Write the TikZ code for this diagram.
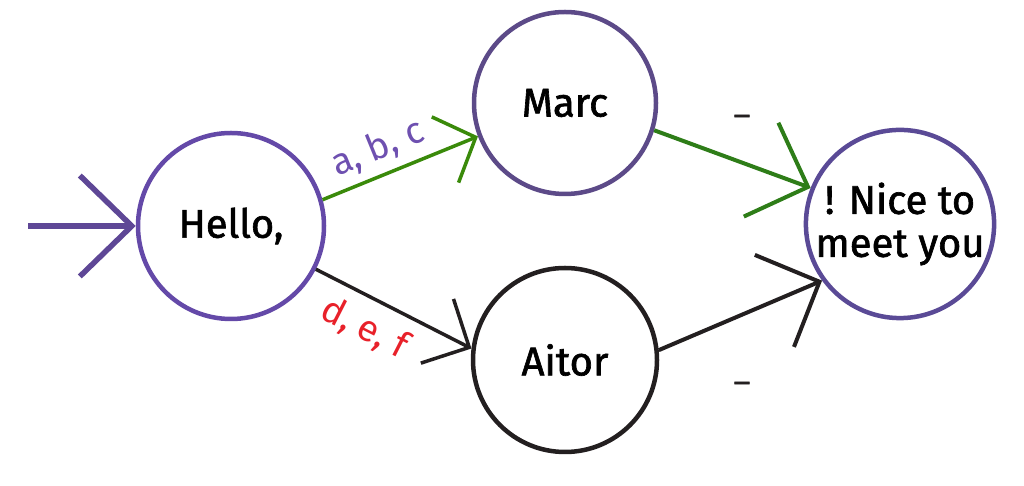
\documentclass[tikz,border=0pt]{standalone}
\usepackage{fontspec}
\setmainfont{Fira Sans}
\newfontfamily\medfont{Fira Sans}[FakeBold=1.6]
\usetikzlibrary{arrows.meta}
\definecolor{hellopurple}{HTML}{6449A8}
\definecolor{marcpurple}{HTML}{5C4A88}
\definecolor{nicepurple}{HTML}{5A4A96}
\definecolor{inpurple}{HTML}{5E4796}
\definecolor{labpurple}{HTML}{6E50B0}
\definecolor{edgegreen}{HTML}{3A8A0A}
\definecolor{edgegreenb}{HTML}{2E7D18}
\definecolor{darkk}{HTML}{231F20}
\definecolor{labred}{HTML}{E8212A}
\tikzset{
  state/.style={circle, line width=4.5pt, inner sep=0pt, align=center, font=\medfont\fontsize{40}{43}\selectfont},
  edgelab/.style={font=\fontsize{37}{40}\selectfont, inner sep=0pt},
  dashlab/.style={font=\medfont\fontsize{30}{32}\selectfont, inner sep=0pt, text=darkk},
  conn/.style={line width=4pt},
}
\begin{document}
\begin{tikzpicture}[x=1pt,y=1pt]
\useasboundingbox (0,0) rectangle (1024,486);
\node[state, draw=hellopurple, minimum size=186pt] (hello) at (231,260) {Hello,};
\node[state, draw=marcpurple, minimum size=182pt] (marc) at (565,383) {Marc};
\node[state, draw=darkk, minimum size=184pt] (aitor) at (565,126) {Aitor};
\node[state, draw=nicepurple, minimum size=188pt] (nice) at (900,262) {! Nice to\\meet you};
\coordinate (start) at (28,260);
\draw[conn, line width=5.5pt, draw=inpurple, -{Straight Barb[length=52pt,width=101pt]}] (start) -- (hello.west);
\draw[conn, line width=3.5pt, draw=edgegreen, -{Straight Barb[length=33pt,width=71pt]}] (hello.16) -- (marc.201)
  node[edgelab, text=labpurple, pos=0.42, above=8pt, sloped] (l1) {a, b, c};
\draw[conn, line width=3.5pt, draw=darkk, -{Straight Barb[length=36pt,width=72pt]}] (hello.333) -- (aitor.173)
  node[edgelab, text=labred, pos=0.40, below=12pt, sloped] (l2) {d, e, f};
\draw[conn, draw=edgegreenb, -{Straight Barb[length=50pt,width=100pt]}] (marc.343) -- (nice.158);
\draw[conn, draw=darkk, -{Straight Barb[length=49pt,width=100pt]}] (aitor.6) -- (nice.216);
\node[dashlab] (d1) at (742,371) {\_};
\node[dashlab] (d2) at (742,104) {\_};
\end{tikzpicture}
\end{document}
